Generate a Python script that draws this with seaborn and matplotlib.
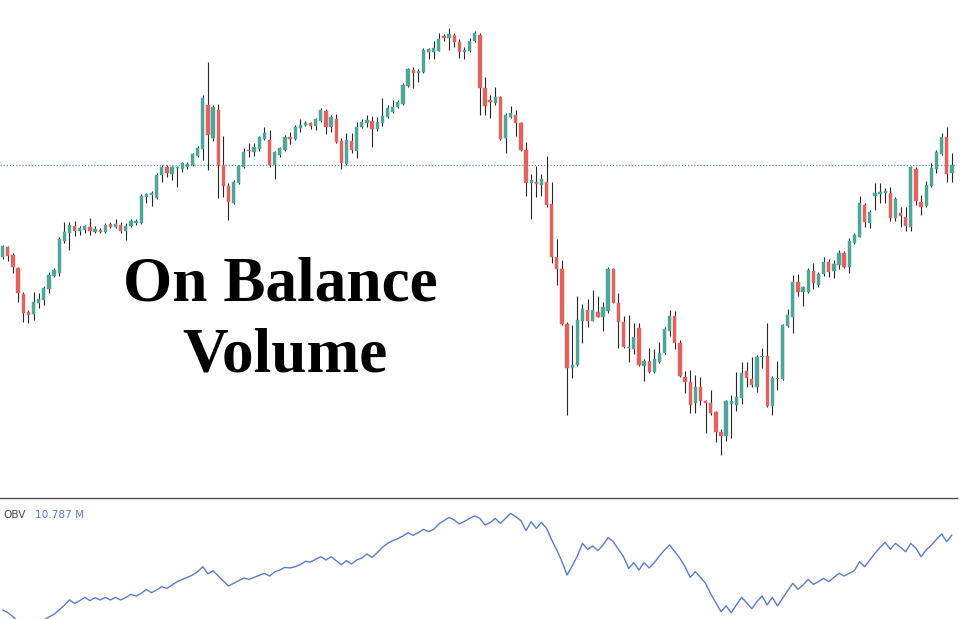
import numpy as np
import pandas as pd
import matplotlib
matplotlib.use("Agg")
import matplotlib.pyplot as plt
import seaborn as sns

# Daily OHLC prices
opens = [34.3, 35.3, 34.5, 33.2, 30.6, 28.8, 28.6, 29.7, 30.0, 31.1,
         32.4, 32.7, 35.9, 36.7, 37.4, 36.9, 37.0, 37.3, 36.8, 37.0,
         36.8, 37.6, 37.3, 37.5, 36.9, 37.4, 37.7, 37.7, 40.3, 40.5,
         40.2, 42.5, 43.3, 42.6, 43.2, 43.1, 43.3, 43.5, 44.4, 45.1,
         49.5, 46.2, 49.0, 43.5, 41.4, 39.7, 41.7, 43.3, 45.0, 44.8,
         45.1, 46.1, 46.0, 43.5, 44.5, 45.0, 46.3, 46.1, 47.2, 47.5,
         47.7, 47.4, 47.9, 48.9, 47.3, 48.1, 45.9, 43.6, 45.9, 44.9,
         47.3, 47.7, 47.9, 47.1, 47.7, 48.3, 48.8, 49.3, 49.6, 51.4,
         53.0, 52.7, 52.8, 54.8, 54.8, 54.9, 56.4, 56.2, 56.5, 55.8,
         54.8, 54.9, 55.9, 56.5, 51.2, 50.0, 49.7, 50.3, 46.2, 48.3,
         48.5, 47.7, 45.0, 41.7, 41.8, 41.5, 41.8, 39.6, 34.3, 33.1,
         27.6, 23.2, 23.5, 27.9, 29.0, 27.9, 28.8, 28.3, 28.9, 33.1,
         29.7, 27.8, 25.2, 25.1, 27.2, 23.4, 23.9, 22.8, 23.8, 24.7,
         26.9, 28.4, 25.7, 22.3, 21.8, 19.7, 21.3, 19.9, 19.7, 18.8,
         16.8, 16.4, 19.6, 19.5, 20.2, 22.9, 22.1, 21.3, 24.3, 24.4,
         19.4, 22.2, 22.1, 27.4, 28.3, 31.8, 30.8, 30.8, 32.9, 31.5,
         32.6, 33.8, 32.9, 33.5, 34.7, 33.3, 35.7, 36.3, 39.5, 37.7,
         40.4, 40.6, 40.7, 40.7, 38.2, 38.7, 38.3, 37.3, 43.1, 39.8,
         39.4, 41.4, 43.1, 44.6, 46.3, 42.7]
highs = [35.5, 35.4, 34.7, 33.3, 30.8, 29.0, 30.8, 30.7, 31.4, 32.8,
         33.2, 36.3, 37.8, 37.8, 37.9, 37.4, 37.5, 38.2, 37.4, 37.2,
         37.7, 37.8, 38.1, 37.8, 37.7, 38.1, 38.1, 40.6, 40.7, 40.9,
         42.7, 43.5, 43.5, 43.4, 43.4, 43.8, 43.8, 44.7, 45.4, 50.5,
         53.8, 49.5, 49.6, 46.4, 41.7, 42.0, 43.5, 45.2, 45.7, 45.7,
         46.4, 47.3, 47.0, 44.9, 45.3, 46.5, 46.8, 47.5, 48.1, 47.9,
         47.8, 48.2, 49.2, 49.1, 48.5, 48.6, 46.2, 46.7, 46.7, 47.8,
         48.1, 48.5, 48.4, 48.3, 50.2, 49.5, 50.0, 50.0, 51.7, 53.2,
         53.3, 53.1, 55.2, 55.2, 55.9, 56.7, 56.6, 57.2, 56.7, 56.1,
         55.3, 56.2, 56.9, 56.7, 52.3, 50.5, 51.3, 50.4, 48.7, 49.4,
         49.0, 47.8, 45.8, 42.6, 43.4, 42.6, 44.4, 41.8, 36.1, 34.0,
         27.8, 27.5, 30.4, 29.6, 30.1, 31.0, 30.4, 29.8, 33.3, 33.2,
         30.7, 28.4, 28.5, 27.7, 27.7, 24.1, 25.2, 25.1, 25.8, 27.3,
         29.0, 28.9, 26.0, 22.9, 23.0, 22.5, 22.3, 20.0, 21.0, 18.9,
         17.1, 20.0, 20.5, 22.8, 23.8, 23.8, 24.3, 24.5, 25.2, 27.7,
         22.4, 23.9, 27.6, 29.1, 32.5, 32.6, 31.4, 33.2, 33.7, 32.8,
         34.3, 34.1, 34.0, 35.0, 34.9, 36.2, 36.7, 40.4, 39.7, 39.0,
         41.7, 41.7, 41.2, 41.3, 40.3, 39.3, 39.3, 43.4, 43.3, 40.5,
         41.9, 43.7, 45.0, 46.7, 47.3, 44.7]
lows = [34.1, 33.9, 32.7, 29.8, 27.8, 27.7, 28.0, 29.2, 29.5, 30.7,
        32.3, 32.4, 35.7, 35.0, 36.4, 36.5, 36.7, 36.5, 36.7, 36.7,
        36.7, 37.2, 37.2, 36.7, 36.0, 37.3, 37.5, 37.6, 39.7, 39.4,
        40.1, 41.8, 42.3, 42.0, 41.3, 42.8, 43.1, 43.4, 44.3, 44.0,
        43.0, 45.9, 40.2, 40.3, 38.0, 39.6, 41.6, 43.2, 44.3, 44.4,
        44.9, 46.0, 43.3, 42.1, 44.3, 44.9, 45.6, 46.0, 46.8, 47.4,
        47.1, 47.0, 47.8, 46.6, 46.8, 45.7, 43.1, 43.5, 44.7, 44.2,
        47.2, 47.3, 45.3, 46.9, 47.4, 48.2, 48.7, 49.2, 49.5, 51.3,
        51.2, 51.8, 52.7, 54.1, 54.1, 54.9, 55.9, 55.0, 55.3, 54.2,
        54.1, 54.8, 55.8, 48.5, 48.5, 48.2, 49.5, 46.0, 44.7, 48.2,
        46.4, 44.9, 40.4, 38.1, 40.3, 40.4, 39.3, 33.7, 31.5, 27.5,
        18.5, 22.2, 23.4, 25.7, 27.3, 27.9, 28.3, 26.9, 28.7, 29.7,
        25.2, 25.2, 23.8, 24.6, 23.4, 21.9, 22.7, 22.7, 23.7, 24.6,
        26.4, 25.1, 22.3, 20.7, 18.7, 18.7, 19.5, 16.7, 18.5, 15.8,
        14.5, 15.9, 16.2, 18.9, 19.6, 21.3, 21.3, 20.8, 23.2, 19.3,
        18.5, 21.0, 22.0, 27.3, 26.7, 30.4, 29.4, 30.7, 31.1, 31.3,
        32.4, 32.3, 32.2, 33.1, 33.2, 32.7, 35.6, 36.3, 37.3, 37.2,
        39.0, 39.7, 39.7, 37.9, 37.9, 37.3, 36.9, 36.9, 39.5, 38.5,
        39.3, 41.3, 42.7, 44.5, 41.8, 41.8]
closes = [35.4, 34.4, 33.3, 30.7, 28.7, 28.5, 29.8, 30.1, 31.2, 32.5,
          33.0, 36.1, 36.8, 37.5, 36.9, 37.2, 37.4, 36.9, 37.1, 36.8,
          37.5, 37.3, 37.6, 36.9, 37.4, 37.9, 37.9, 40.4, 40.6, 40.7,
          42.5, 43.3, 42.7, 43.3, 43.3, 43.7, 43.6, 44.6, 45.2, 50.2,
          46.5, 49.3, 43.5, 41.4, 39.8, 41.8, 43.4, 44.8, 44.9, 45.3,
          46.3, 46.7, 43.5, 44.8, 45.2, 46.3, 46.1, 47.3, 47.5, 47.7,
          47.4, 48.1, 49.0, 47.3, 48.3, 45.8, 43.7, 46.0, 45.0, 47.3,
          47.8, 48.0, 47.1, 47.8, 48.4, 49.2, 49.3, 49.8, 51.5, 53.1,
          52.7, 52.9, 55.0, 55.1, 55.2, 56.1, 56.2, 56.6, 55.8, 54.8,
          55.0, 55.9, 56.7, 51.2, 49.4, 49.8, 50.3, 46.1, 48.5, 48.7,
          47.7, 45.0, 41.7, 42.0, 41.6, 42.1, 39.5, 34.3, 33.1, 27.6,
          23.2, 23.5, 28.0, 29.1, 27.9, 29.0, 28.3, 29.3, 33.1, 29.7,
          27.8, 25.3, 25.3, 26.3, 23.5, 23.9, 22.8, 24.1, 24.7, 27.1,
          28.4, 25.7, 22.4, 21.8, 19.5, 21.3, 19.9, 19.7, 18.7, 16.8,
          16.4, 19.9, 19.9, 20.3, 22.7, 22.2, 21.5, 24.3, 24.4, 19.4,
          22.2, 22.1, 27.5, 28.5, 31.8, 30.8, 31.3, 33.0, 31.7, 32.6,
          33.8, 32.8, 33.6, 34.7, 33.3, 35.9, 36.5, 39.7, 37.8, 38.8,
          40.7, 40.8, 40.9, 38.2, 40.1, 38.4, 37.4, 43.3, 39.9, 39.3,
          41.5, 43.2, 44.8, 46.3, 42.6, 43.5]

# On Balance Volume, in millions
obv = [3.29, 3.02, 2.62, 2.12, 1.89, 1.75, 1.95, 2.09, 2.29, 2.59,
       2.85, 3.29, 3.75, 4.29, 3.95, 4.22, 4.55, 4.22, 4.52, 4.29,
       4.55, 4.29, 4.55, 4.29, 4.55, 4.85, 4.69, 4.95, 5.35, 5.02,
       5.29, 5.62, 5.45, 5.79, 6.12, 6.35, 6.55, 6.79, 7.12, 7.62,
       6.89, 7.22, 6.69, 6.19, 5.69, 5.95, 6.22, 6.49, 6.35, 6.55,
       6.75, 6.95, 6.69, 7.09, 7.29, 7.55, 7.49, 7.62, 7.82, 8.15,
       8.09, 8.35, 8.62, 8.29, 8.62, 8.22, 7.82, 8.22, 7.89, 8.29,
       8.49, 8.89, 8.55, 9.02, 9.55, 9.95, 10.22, 10.42, 10.69, 11.02,
       10.75, 11.02, 11.35, 11.12, 11.35, 11.89, 12.22, 12.55, 12.29, 11.89,
       12.15, 12.45, 12.69, 12.45, 11.79, 12.02, 12.45, 11.95, 12.45, 12.95,
       12.62, 12.22, 11.22, 12.12, 11.45, 12.05, 11.45, 10.29, 9.29, 8.12,
       6.79, 7.69, 8.69, 9.95, 9.35, 9.69, 9.22, 9.79, 10.52, 10.12,
       9.35, 8.62, 7.45, 8.02, 7.29, 8.02, 7.49, 8.02, 8.69, 9.29,
       9.79, 9.12, 8.45, 7.62, 6.55, 7.12, 6.55, 5.95, 4.89, 4.02,
       3.12, 3.69, 3.02, 3.79, 4.55, 4.02, 3.42, 4.12, 4.69, 3.79,
       4.55, 3.69, 4.45, 5.22, 5.95, 5.35, 5.79, 6.35, 5.85, 6.12,
       6.45, 6.12, 6.55, 6.95, 6.69, 6.95, 7.22, 8.12, 7.62, 8.29,
       8.95, 9.55, 10.05, 9.35, 9.95, 9.55, 9.12, 9.95, 9.45, 8.62,
       9.29, 9.79, 10.35, 10.89, 10.12, 10.787]

UP = "#4fa597"
DOWN = "#e2625d"
WICK = "#262626"
OBV_BLUE = "#5b7bcf"
LAST_LINE = "#4c9f98"

df = pd.DataFrame({"open": opens, "high": highs, "low": lows,
                   "close": closes, "obv": obv})
df["bar"] = np.arange(len(df))
df["rising"] = df["close"] >= df["open"]

sns.set_theme(style="white")
plt.rcParams["font.family"] = ["DejaVu Sans"]

W, H = 964, 619
fig = plt.figure(figsize=(W / 100, H / 100), dpi=100)
fig.patch.set_facecolor("white")

plot_w = 957 / W
ax = fig.add_axes([0, (H - 497) / H, plot_w, 497 / H])
ax_obv = fig.add_axes([0, 0, plot_w, 121 / H], sharex=ax)

# Candles: wicks first, bodies on top
colors = np.where(df["rising"], UP, DOWN)
ax.vlines(df["bar"], df["low"], df["high"], color=WICK, linewidth=0.8, zorder=2)
body_lo = df[["open", "close"]].min(axis=1)
body_h = (df["close"] - df["open"]).abs().clip(lower=0.12)
ax.bar(df["bar"], body_h, bottom=body_lo, width=0.64, color=colors,
       edgecolor=colors, linewidth=0.3, zorder=3)

# Last price line
ax.axhline(df["close"].iloc[-1], color=LAST_LINE, linewidth=0.9,
           linestyle=(0, (1, 1.5)), zorder=1)

ax.set_xlim(-0.53, 186.0)
ax.set_ylim(10.3, 60.0)
ax.set_axis_off()

# OBV panel
sns.lineplot(data=df, x="bar", y="obv", ax=ax_obv, color=OBV_BLUE,
             linewidth=1.0, legend=False)
ax_obv.set_ylim(2.387, 14.487)
ax_obv.set_xlim(-0.53, 186.0)
ax_obv.set_xlabel("")
ax_obv.set_ylabel("")
ax_obv.set_xticks([])
ax_obv.set_yticks([])
for side in ("left", "right", "bottom"):
    ax_obv.spines[side].set_visible(False)
ax_obv.spines["top"].set_visible(True)
ax_obv.spines["top"].set_color("#4d4d4d")
ax_obv.spines["top"].set_linewidth(1.0)
ax_obv.set_facecolor("none")

fig.text(3 / W, 1 - 517.5 / H, "OBV", fontsize=7.6, color="#4a4a4a",
         ha="left", va="baseline")
fig.text(35 / W, 1 - 517.5 / H, f"{obv[-1]:.3f} M", fontsize=7.6,
         color=OBV_BLUE, ha="left", va="baseline")

# Headline
serif = ["Liberation Serif", "DejaVu Serif"]
fig.text(280 / W, 1 - 300 / H, "On Balance", fontsize=45.5, fontweight="bold",
         family=serif, color="black", ha="center", va="baseline")
fig.text(284.5 / W, 1 - 371 / H, "Volume", fontsize=45.5, fontweight="bold",
         family=serif, color="black", ha="center", va="baseline")

fig.savefig("out.png", dpi=100, facecolor="white")
